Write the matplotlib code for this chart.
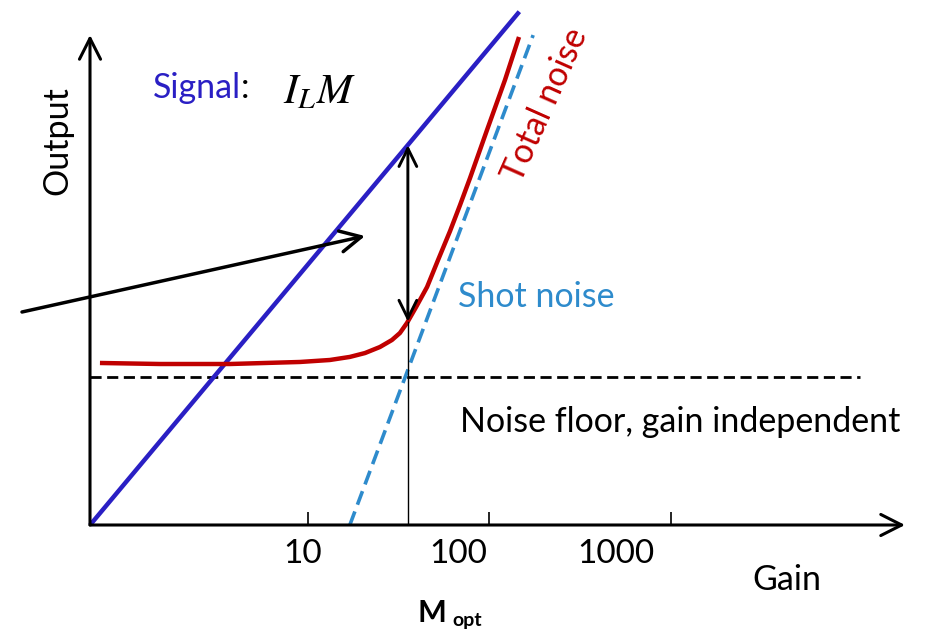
import matplotlib
matplotlib.use("Agg")
import matplotlib.pyplot as plt
from matplotlib.patches import FancyArrowPatch
from matplotlib.ticker import NullLocator
from matplotlib.transforms import ScaledTranslation

# ---- schematic data (gain on a log axis, output on a log axis) ----
signal_gain = [0.63, 146.0]          # I_L * M, straight line in log-log
signal_out = [1.0, 232.0]

shot_gain = [17.0, 174.0]            # shot noise, steeper slope
shot_out = [1.0, 181.0]

noise_floor = 4.8                    # gain-independent noise floor

total_gain = [0.714, 1.53, 3.72, 9.03, 13.2, 17.0, 20.6, 24.9, 29.0, 32.1,
              35.1, 39.4, 45.3, 52.0, 60.6, 68.8, 78.1, 96.9, 121.7, 145.4]
total_out = [5.58, 5.52, 5.52, 5.64, 5.76, 5.95, 6.20, 6.61, 7.12, 7.67,
             8.53, 10.1, 12.5, 16.6, 22.6, 29.8, 39.7, 66.1, 112.4, 177.4]

m_opt = 35.5
signal_at_mopt = 56.3
total_at_mopt = 8.65

tick_gains = [10, 100, 1000]
tick_labels = ["10", "100", "1000"]

# ---- colours / fonts ----
C_SIGNAL = "#2a1fc4"
C_TOTAL = "#c00000"
C_SHOT = "#2e8bcc"
plt.rcParams["font.family"] = ["Lato", "DejaVu Sans"]
plt.rcParams["mathtext.fontset"] = "stix"

W, H = 928, 629
fig = plt.figure(figsize=(W / 100, H / 100), dpi=100)

# axes origin at pixel (90, 525); one gain decade = 181.5 px, one output decade = 217 px
ox, oy, right, top = 90, 525, 905, 35
ax = fig.add_axes([ox / W, 1 - oy / H, (right - ox) / W, (oy - top) / H])
ax.set_xscale("log")
ax.set_yscale("log")
ax.set_xlim(10 ** (1 - (308 - ox) / 181.5), 10 ** (1 + (right - 308) / 181.5))
ax.set_ylim(1, 10 ** ((oy - top) / 217))
for s in ax.spines.values():
    s.set_visible(False)
ax.xaxis.set_minor_locator(NullLocator())
ax.yaxis.set_minor_locator(NullLocator())
ax.set_yticks([])
ax.set_xticks(tick_gains)
ax.set_xticklabels(tick_labels)
ax.tick_params(axis="x", direction="in", length=9.5, width=1.2, pad=10,
               labelsize=24)
for lab, dx in zip(ax.get_xticklabels(), [-5, -31, -55]):
    lab.set_transform(lab.get_transform() + ScaledTranslation(dx / 100, 0, fig.dpi_scale_trans))

# axis arrows
arrow_kw = dict(arrowstyle="->,head_length=0.75,head_width=0.38", lw=2.2,
                color="black", mutation_scale=20, shrinkA=0, shrinkB=0)
ax.annotate("", xy=(1, 0), xytext=(0, 0), xycoords="axes fraction",
            textcoords="axes fraction", arrowprops=arrow_kw, annotation_clip=False)
ax.annotate("", xy=(0, 1), xytext=(0, 0), xycoords="axes fraction",
            textcoords="axes fraction", arrowprops=arrow_kw, annotation_clip=False)

# noise floor
ax.axhline(noise_floor, xmin=0, xmax=(860 - ox) / (right - ox), color="black",
           lw=2.0, dashes=(4, 2))

# curves
ax.plot(shot_gain, shot_out, color=C_SHOT, lw=2.6, dashes=(4, 2), clip_on=False)
ax.plot(signal_gain, signal_out, color=C_SIGNAL, lw=3.2, clip_on=False,
        solid_capstyle="butt")
ax.plot(total_gain, total_out, color=C_TOTAL, lw=3.2, clip_on=False,
        solid_capstyle="butt", solid_joinstyle="round")

# M_opt marker line and the signal-to-noise arrow
ax.plot([m_opt, m_opt], [1, total_at_mopt], color="black", lw=1.0)
ax.annotate("", xy=(m_opt, signal_at_mopt), xytext=(m_opt, total_at_mopt),
            arrowprops=dict(arrowstyle="<->,head_length=0.65,head_width=0.32",
                            lw=2.1, color="black", mutation_scale=20,
                            shrinkA=0, shrinkB=0))


def px(x, y):
    return x / W, 1 - y / H


# pointer arrow towards the signal line
fig.patches.append(FancyArrowPatch(
    px(22, 312), px(365, 236), transform=fig.transFigure,
    arrowstyle="->,head_length=0.75,head_width=0.38", lw=2.5, color="black",
    mutation_scale=20, shrinkA=0, shrinkB=0))

# labels
fs = 24.5
fig.text(*px(153, 98), "Signal", color=C_SIGNAL, fontsize=fs, ha="left", va="baseline")
fig.text(*px(241, 98), ":", color="black", fontsize=fs, ha="left", va="baseline")
fig.text(*px(283, 103), r"$I_L M$", color="black", fontsize=31, ha="left", va="baseline")
fig.text(*px(545, 105), "Total noise", color=C_TOTAL, fontsize=fs, rotation=66,
         ha="center", va="center", rotation_mode="anchor")
fig.text(*px(458, 307), "Shot noise", color=C_SHOT, fontsize=fs, ha="left", va="baseline")
fig.text(*px(460, 432), "Noise floor, gain independent", color="black", fontsize=fs,
         ha="left", va="baseline")
fig.text(*px(57, 141), "Output", color="black", fontsize=fs, rotation=90,
         ha="center", va="center")
fig.text(*px(787, 580), "Gain", color="black", fontsize=fs, ha="center", va="center")
fig.text(*px(418, 622), "M", color="black", fontsize=22, fontweight="bold",
         ha="left", va="baseline")
fig.text(*px(452, 626), "opt", color="black", fontsize=14, fontweight="bold",
         ha="left", va="baseline")

fig.savefig("out.png", dpi=100)
